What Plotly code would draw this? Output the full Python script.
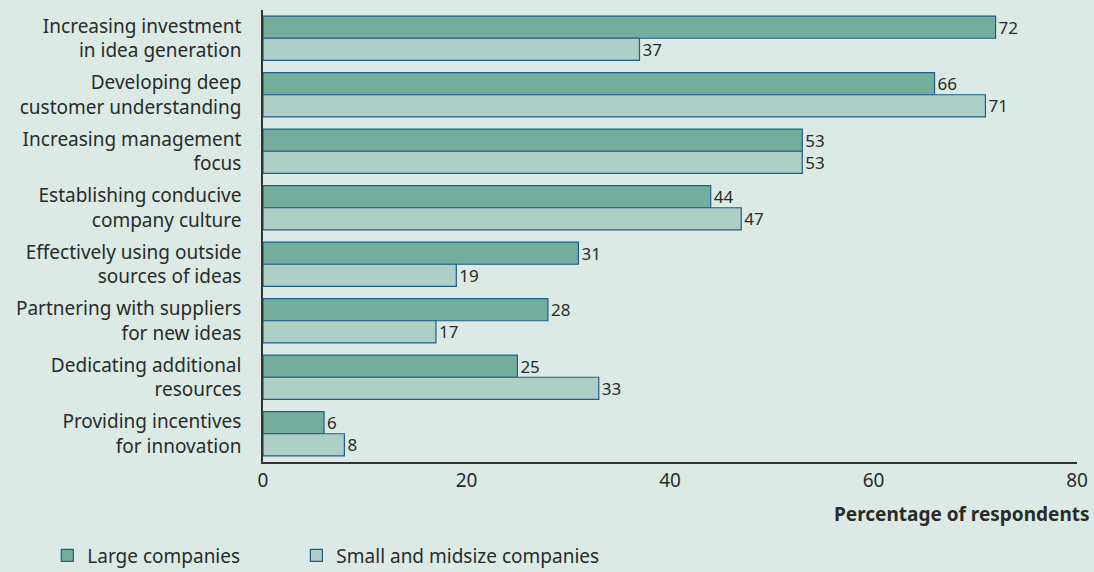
import plotly.graph_objects as go

categories = [
    "Increasing investment<br>in idea generation",
    "Developing deep<br>customer understanding",
    "Increasing management<br>focus",
    "Establishing conducive<br>company culture",
    "Effectively using outside<br>sources of ideas",
    "Partnering with suppliers<br>for new ideas",
    "Dedicating additional<br>resources",
    "Providing incentives<br>for innovation",
]
large = [72, 66, 53, 44, 31, 28, 25, 6]
small = [37, 71, 53, 47, 19, 17, 33, 8]

FONT = "Noto Sans"
BG = "#dbeae5"
LINE = "#1d5e8c"
TXT = "#2a2a2a"
FS = 19
VFS = 17

fig = go.Figure()
fig.add_trace(go.Bar(
    y=categories, x=large, orientation="h", name="Large companies",
    marker=dict(color="#73ae9d", line=dict(color=LINE, width=1.2)),
    text=[str(v) for v in large], textposition="outside", constraintext="none",
    textfont=dict(family=FONT, size=VFS, color=TXT), cliponaxis=False,
    legend="legend",
))
fig.add_trace(go.Bar(
    y=categories, x=small, orientation="h", name="Small and midsize companies",
    marker=dict(color="#adcfc6", line=dict(color=LINE, width=1.2)),
    text=[str(v) for v in small], textposition="outside", constraintext="none",
    textfont=dict(family=FONT, size=VFS, color=TXT), cliponaxis=False,
    legend="legend2",
))

leg = dict(orientation="h", xanchor="left", y=-0.165, yanchor="top",
           font=dict(family=FONT, size=FS, color=TXT), bgcolor="rgba(0,0,0,0)")

fig.update_layout(
    width=1094, height=572,
    paper_bgcolor=BG, plot_bgcolor=BG,
    barmode="group", bargap=0.22, bargroupgap=0,
    margin=dict(l=263, r=17, t=10, b=110, autoexpand=False),
    font=dict(family=FONT, size=FS, color=TXT),
    showlegend=True,
    legend=dict(leg, x=-0.265),
    legend2=dict(leg, x=0.041),
    xaxis=dict(range=[0, 80], tickvals=[0, 20, 40, 60, 80], showgrid=False,
               zeroline=False, showline=True, linecolor="#333", linewidth=1.5,
               ticks="", tickfont=dict(size=FS, color=TXT),
               title=dict(text="")),
    yaxis=dict(autorange="reversed", showgrid=False, zeroline=False,
               showline=True, linecolor="#333", linewidth=1.5, ticks="",
               ticklabelstandoff=16, tickfont=dict(size=FS, color=TXT)),
    annotations=[dict(text="<b>Percentage of respondents</b>", xref="paper", yref="paper",
                      x=1.018, y=-0.082, xanchor="right", yanchor="top", showarrow=False,
                      font=dict(family=FONT, size=FS, color=TXT))],
)

fig.write_html("out.html")
